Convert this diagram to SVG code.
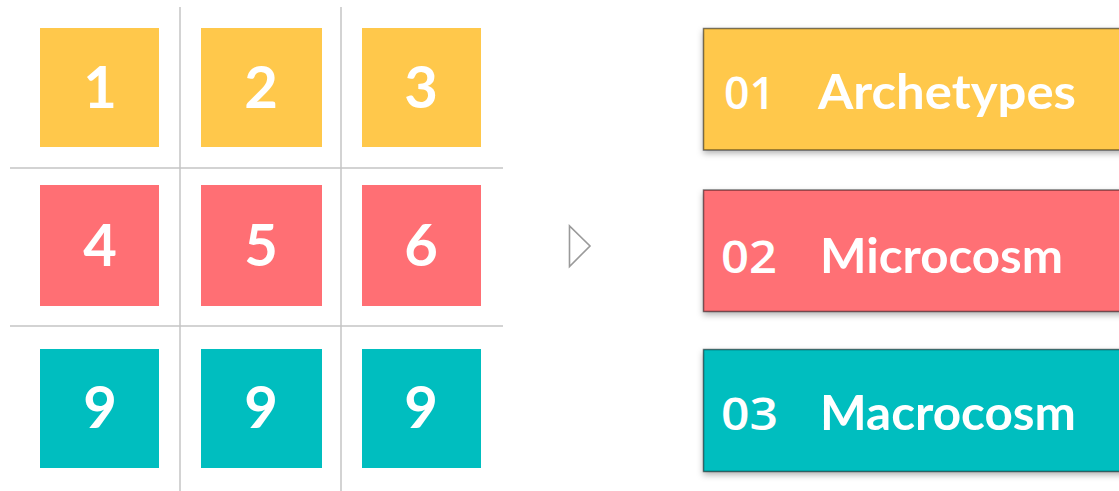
<svg xmlns="http://www.w3.org/2000/svg" width="1119" height="491" viewBox="0 0 1119 491">
<defs>
<filter id="sh" x="-10%" y="-20%" width="130%" height="150%">
<feDropShadow dx="0" dy="3" stdDeviation="3" flood-color="#000" flood-opacity="0.3"/>
</filter>
<style>
.grid{stroke:#c4c4c4;stroke-width:1.5;fill:none}
.y{fill:#FFC84B}
.r{fill:#FF6F74}
.t{fill:#00BEBF}
.num{font-family:Lato,"Open Sans",sans-serif;font-weight:700;font-size:58px;fill:#fff;text-anchor:middle}
.bar{stroke:#000;stroke-opacity:0.5;stroke-width:1.5;filter:url(#sh)}
.idx{font-family:"Open Sans",Lato,sans-serif;font-weight:600;font-size:46px;fill:#fff}
.lbl{font-family:Lato,"Open Sans",sans-serif;font-weight:700;font-size:47px;fill:#fff}
</style>
</defs>
<rect width="1119" height="491" fill="#fff"/>
<g id="grid">
<line class="grid" x1="180" y1="7" x2="180" y2="491"/>
<line class="grid" x1="341" y1="7" x2="341" y2="491"/>
<line class="grid" x1="10" y1="168" x2="503" y2="168"/>
<line class="grid" x1="10" y1="326" x2="503" y2="326"/>
</g>
<g id="cell1"><rect class="y" x="40" y="28" width="119" height="119"/><text class="num" x="100" y="108">1</text></g>
<g id="cell2"><rect class="y" x="201" y="28" width="121" height="119"/><text class="num" x="261" y="108">2</text></g>
<g id="cell3"><rect class="y" x="362" y="28" width="119" height="119"/><text class="num" x="421" y="108">3</text></g>
<g id="cell4"><rect class="r" x="40" y="185" width="119" height="121"/><text class="num" x="100" y="266">4</text></g>
<g id="cell5"><rect class="r" x="201" y="185" width="121" height="121"/><text class="num" x="261" y="266">5</text></g>
<g id="cell6"><rect class="r" x="362" y="185" width="119" height="121"/><text class="num" x="421" y="266">6</text></g>
<g id="cell7"><rect class="t" x="40" y="349" width="119" height="119"/><text class="num" x="100" y="428">9</text></g>
<g id="cell8"><rect class="t" x="201" y="349" width="121" height="119"/><text class="num" x="261" y="428">9</text></g>
<g id="cell9"><rect class="t" x="362" y="349" width="119" height="119"/><text class="num" x="421" y="428">9</text></g>
<g id="connectors">
<polygon points="569.5,226 569.5,266.5 590,246" fill="none" stroke="#9a9a9a" stroke-width="1.6" stroke-linejoin="miter"/>
</g>
<g id="bar1"><rect class="bar y" x="703.5" y="28.5" width="430" height="121.5"/><text class="idx" x="724" y="109" textLength="51" lengthAdjust="spacingAndGlyphs">01</text><text class="lbl" x="818" y="109" textLength="258" lengthAdjust="spacingAndGlyphs">Archetypes</text></g>
<g id="bar2"><rect class="bar r" x="703.5" y="190" width="430" height="121.5"/><text class="idx" x="721" y="273" textLength="56" lengthAdjust="spacingAndGlyphs">02</text><text class="lbl" x="820" y="273" textLength="243" lengthAdjust="spacingAndGlyphs">Microcosm</text></g>
<g id="bar3"><rect class="bar t" x="703.5" y="349.5" width="430" height="122"/><text class="idx" x="721" y="430" textLength="57" lengthAdjust="spacingAndGlyphs">03</text><text class="lbl" x="820" y="430" textLength="256" lengthAdjust="spacingAndGlyphs">Macrocosm</text></g>
</svg>
